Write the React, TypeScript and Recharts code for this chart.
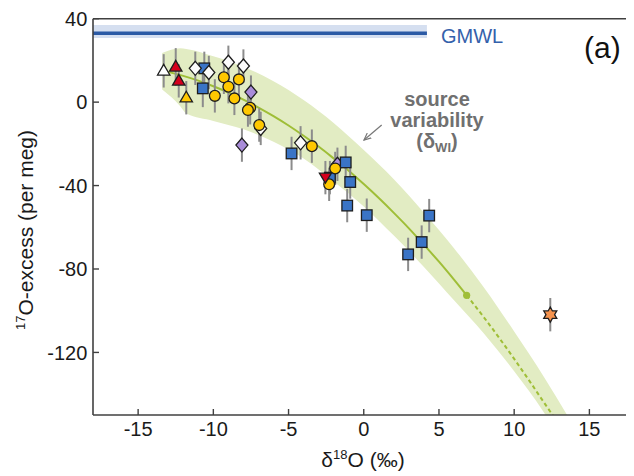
import React from 'react';
import { ComposedChart, XAxis, YAxis, Scatter, Line, Area, ErrorBar, ReferenceLine, ReferenceArea } from 'recharts';

const FONT = '"Liberation Sans", Arial, Helvetica, sans-serif';

const xTicks = [-15, -10, -5, 0, 5, 10, 15];
const yTicks = [-120, -80, -40, 0, 40];

// observations: x = d18O, y = 17O-excess, e = error (per meg)
const blueSquares = [
  { x: -10.6, y: 16.2, e: 8 }, { x: -10.7, y: 6.6, e: 9 }, { x: -4.8, y: -24.6, e: 8 },
  { x: -1.2, y: -28.9, e: 8 }, { x: -2.25, y: -36.2, e: 8 }, { x: -0.9, y: -38.3, e: 8 },
  { x: -1.1, y: -49.6, e: 8 }, { x: 0.2, y: -54.2, e: 8 }, { x: 4.35, y: -54.4, e: 8 },
  { x: 3.85, y: -67.1, e: 8 }, { x: 2.95, y: -73.0, e: 8 },
];
const purpleDiamonds = [
  { x: -7.5, y: 4.8, e: 8 }, { x: -8.1, y: -20.6, e: 8 }, { x: -1.75, y: -29.8, e: 8 },
];
const whiteDiamonds = [
  { x: -11.2, y: 16.2, e: 8 }, { x: -10.3, y: 14.2, e: 8 }, { x: -9.0, y: 19.1, e: 8 },
  { x: -8.0, y: 17.3, e: 8 }, { x: -6.85, y: -12.6, e: 8 }, { x: -4.2, y: -19.5, e: 8 },
];
const yellowCircles = [
  { x: -9.3, y: 11.9, e: 8 }, { x: -8.3, y: 10.9, e: 8 }, { x: -9.0, y: 7.4, e: 8 },
  { x: -9.9, y: 3.0, e: 8 }, { x: -8.6, y: 1.8, e: 8 }, { x: -7.55, y: -2.7, e: 8 },
  { x: -7.7, y: -3.8, e: 8 }, { x: -6.95, y: -11.0, e: 8 }, { x: -3.45, y: -21.1, e: 8 },
  { x: -1.9, y: -31.8, e: 8 }, { x: -2.3, y: -39.4, e: 8 },
];
const whiteTriangles = [{ x: -13.3, y: 15.0, e: 8 }];
const redTriangles = [{ x: -12.5, y: 16.9, e: 9 }, { x: -12.3, y: 10.2, e: 8 }];
const yellowTriangles = [{ x: -11.8, y: 2.1, e: 8 }];
const redInvTriangles = [{ x: -2.55, y: -36.2, e: 8 }];
const orangeStars = [{ x: 12.4, y: -101.9, e: 8 }];

// model curve
const curveX = [-13, -12, -11, -10, -9, -8, -7, -6, -5, -4, -3, -2, -1, 0, 1, 2, 3, 4, 5, 6, 6.84];
const curveY = [14.5, 12.6, 10.3, 7.6, 4.6, 1.2, -2.6, -6.7, -11.2, -16.1, -21.3, -27.0, -32.9, -39.3, -46.0, -53.1, -60.5, -68.4, -76.5, -85.1, -92.6];
const dashX = [6.84, 8, 9, 10, 11, 12, 12.6];
const dashY = [-92.6, -103.3, -113.0, -123.1, -133.5, -144.2, -150.5];
const endDot = [{ x: 6.84, y: -92.6 }];

// source variability band
const bandX = [-13.4, -12.2, -11.8, -10, -8, -6, -4, -2, 0, 2, 4, 6, 8, 10, 12, 13.6];
const bandLo = [6, -2, -5.5, -9, -13, -19, -27, -38, -50, -64, -79, -95, -111, -129, -149, -168];
const bandHi = [23.5, 25.8, 25.5, 22, 17, 10, 1, -10, -23, -37, -53, -70, -89, -110, -132, -151];

// GMWL
const gmwlY = 33;
const gmwlLo = 30.7;
const gmwlHi = 37;
const gmwlX0 = -18;
const gmwlX1 = 4.2;

const curveData = curveX.map((x, i) => ({ x, y: curveY[i] }));
const dashData = dashX.map((x, i) => ({ x, y: dashY[i] }));
const bandData = bandX.map((x, i) => ({ x, band: [bandLo[i], bandHi[i]] }));
const allPoints = [
  ...blueSquares, ...purpleDiamonds, ...whiteDiamonds, ...yellowCircles, ...whiteTriangles,
  ...redTriangles, ...yellowTriangles, ...redInvTriangles, ...orangeStars,
];

const SK = '#1e1e1e';
const SW = 1.3;

const makeShape = (kind: string, fill: string) => (p: any) => {
  const { cx, cy } = p;
  if (cx == null || cy == null) return <g />;
  switch (kind) {
    case 'square':
      return <rect x={cx - 5.3} y={cy - 5.3} width={10.6} height={10.6} fill={fill} stroke={SK} strokeWidth={SW} />;
    case 'circle':
      return <circle cx={cx} cy={cy} r={5.4} fill={fill} stroke={SK} strokeWidth={SW} />;
    case 'diamond':
      return <polygon points={`${cx},${cy - 7} ${cx + 6},${cy} ${cx},${cy + 7} ${cx - 6},${cy}`} fill={fill} stroke={SK} strokeWidth={SW} />;
    case 'tri':
      return <polygon points={`${cx},${cy - 6.5} ${cx + 6.2},${cy + 4.2} ${cx - 6.2},${cy + 4.2}`} fill={fill} stroke={SK} strokeWidth={SW} />;
    case 'itri':
      return <polygon points={`${cx},${cy + 5.5} ${cx + 6},${cy - 4.5} ${cx - 6},${cy - 4.5}`} fill={fill} stroke={SK} strokeWidth={SW} />;
    case 'star': {
      const pts: string[] = [];
      for (let k = 0; k < 12; k++) {
        const r = k % 2 === 0 ? 7.5 : 4.3;
        const a = (Math.PI / 6) * k - Math.PI / 2;
        pts.push(`${cx + r * Math.cos(a)},${cy + r * Math.sin(a)}`);
      }
      return <polygon points={pts.join(' ')} fill={fill} stroke={SK} strokeWidth={SW} />;
    }
    case 'dot':
      return <circle cx={cx} cy={cy} r={3.6} fill={fill} />;
    default:
      return <g />;
  }
};

const emptyShape = () => <g />;

const W = 626;
const H = 468;
const AX = '#404040';

export default function App() {
  return (
    <div style={{ position: 'relative', width: W, height: H, fontFamily: FONT }}>
      <ComposedChart width={W} height={H} margin={{ top: 9.7, right: 3, bottom: 0, left: 0 }}>
        <XAxis
          type="number" dataKey="x" domain={[-18, 17.7]} allowDataOverflow ticks={xTicks} interval={0}
          tickSize={-6} tickMargin={13} height={61} stroke={AX} axisLine={{ strokeWidth: 1.6 }}
          tickLine={{ strokeWidth: 1.4 }} tick={{ fontSize: 20, fill: '#1a1a1a', fontFamily: FONT }}
        />
        <XAxis
          xAxisId="t" orientation="top" type="number" dataKey="x" domain={[-18, 17.7]} allowDataOverflow
          ticks={xTicks} interval={0} tick={false} tickSize={-6} height={1} stroke={AX}
          axisLine={{ strokeWidth: 1.6 }} tickLine={{ strokeWidth: 1.4 }}
        />
        <YAxis
          type="number" dataKey="y" domain={[-150, 40]} allowDataOverflow ticks={yTicks} interval={0}
          tickSize={-6} tickMargin={11.7} width={85} stroke={AX} axisLine={{ strokeWidth: 1.6 }}
          tickLine={{ strokeWidth: 1.4 }} tick={{ fontSize: 20, fill: '#1a1a1a', fontFamily: FONT }}
        />
        <YAxis
          yAxisId="r" orientation="right" type="number" dataKey="y" domain={[-150, 40]} allowDataOverflow
          ticks={yTicks} interval={0} tick={false} tickSize={-6} width={1} stroke={AX}
          axisLine={{ strokeWidth: 1.6 }} tickLine={{ strokeWidth: 1.4 }}
        />

        <ReferenceArea x1={gmwlX0} x2={gmwlX1} y1={gmwlLo} y2={gmwlHi} fill="#d5dff0" fillOpacity={1} stroke="none" />
        <ReferenceLine segment={[{ x: gmwlX0, y: gmwlY }, { x: gmwlX1, y: gmwlY }]} stroke="#2b5aa5" strokeWidth={3.5} />

        <Area data={bandData} dataKey="band" type="monotone" stroke="none" fill="#e2ecc3" fillOpacity={1} isAnimationActive={false} dot={false} activeDot={false} />
        <Line data={curveData} dataKey="y" type="monotone" stroke="#9fbe37" strokeWidth={2} dot={false} activeDot={false} isAnimationActive={false} />
        <Line data={dashData} dataKey="y" type="monotone" stroke="#9fbe37" strokeWidth={2} strokeDasharray="4 3" dot={false} activeDot={false} isAnimationActive={false} />

        <Scatter xAxisId="t" yAxisId="r" data={allPoints} shape={emptyShape} isAnimationActive={false} />
        <Scatter data={allPoints} shape={emptyShape} isAnimationActive={false}>
          <ErrorBar dataKey="e" direction="y" width={0} stroke="#8c8c8c" strokeWidth={2} isAnimationActive={false} />
        </Scatter>
        <Scatter data={endDot} shape={makeShape('dot', '#9fbe37')} isAnimationActive={false} />
        <Scatter data={purpleDiamonds} shape={makeShape('diamond', '#a98cd9')} isAnimationActive={false} />
        <Scatter data={blueSquares} shape={makeShape('square', '#3a74c6')} isAnimationActive={false} />
        <Scatter data={whiteDiamonds} shape={makeShape('diamond', '#fbfbfb')} isAnimationActive={false} />
        <Scatter data={yellowCircles} shape={makeShape('circle', '#ffc800')} isAnimationActive={false} />
        <Scatter data={whiteTriangles} shape={makeShape('tri', '#ffffff')} isAnimationActive={false} />
        <Scatter data={redTriangles} shape={makeShape('tri', '#d5001c')} isAnimationActive={false} />
        <Scatter data={yellowTriangles} shape={makeShape('tri', '#ffc800')} isAnimationActive={false} />
        <Scatter data={redInvTriangles} shape={makeShape('itri', '#d5001c')} isAnimationActive={false} />
        <Scatter data={orangeStars} shape={makeShape('star', '#f5934e')} isAnimationActive={false} />
      </ComposedChart>

      <svg width={W} height={H} style={{ position: 'absolute', left: 0, top: 0, pointerEvents: 'none', overflow: 'visible' }}>
        <defs>
          <marker id="arrowHead" markerWidth="8" markerHeight="8" refX="7" refY="4" orient="auto" markerUnits="userSpaceOnUse">
            <path d="M0,0.8 L7,4 L0,7.2" fill="none" stroke="#777" strokeWidth={1.2} />
          </marker>
        </defs>
        <text transform="rotate(-90)" x={-222} y={25} textAnchor="middle" fontSize={21} fill="#1a1a1a" fontFamily={FONT}>
          <tspan fontSize={13} dy={-8}>17</tspan>
          <tspan dy={8}>O-excess (per meg)</tspan>
        </text>
        <text x={355} y={459} textAnchor="middle" fontSize={21} fill="#1a1a1a" fontFamily={FONT}>
          δ<tspan fontSize={13} dy={-8}>18</tspan>
          <tspan dy={8}>O (‰)</tspan>
        </text>
        <text x={433} y={34.5} fontSize={20} fill="#3461ab" fontFamily={FONT}>GMWL</text>
        <text x={576} y={50} fontSize={30} fill="#111" fontFamily={FONT}>(a)</text>
        <g fontSize={20} fontWeight="bold" fill="#707070" fontFamily={FONT} textAnchor="middle">
          <text x={429} y={98}>source</text>
          <text x={429} y={119}>variability</text>
          <text x={429} y={140}>
            (δ<tspan fontSize={13} dy={4}>WI</tspan><tspan dy={-4}>)</tspan>
          </text>
        </g>
        <line x1={373.7} y1={117} x2={356} y2={132} stroke="#777" strokeWidth={1.2} markerEnd="url(#arrowHead)" />
      </svg>
    </div>
  );
}
